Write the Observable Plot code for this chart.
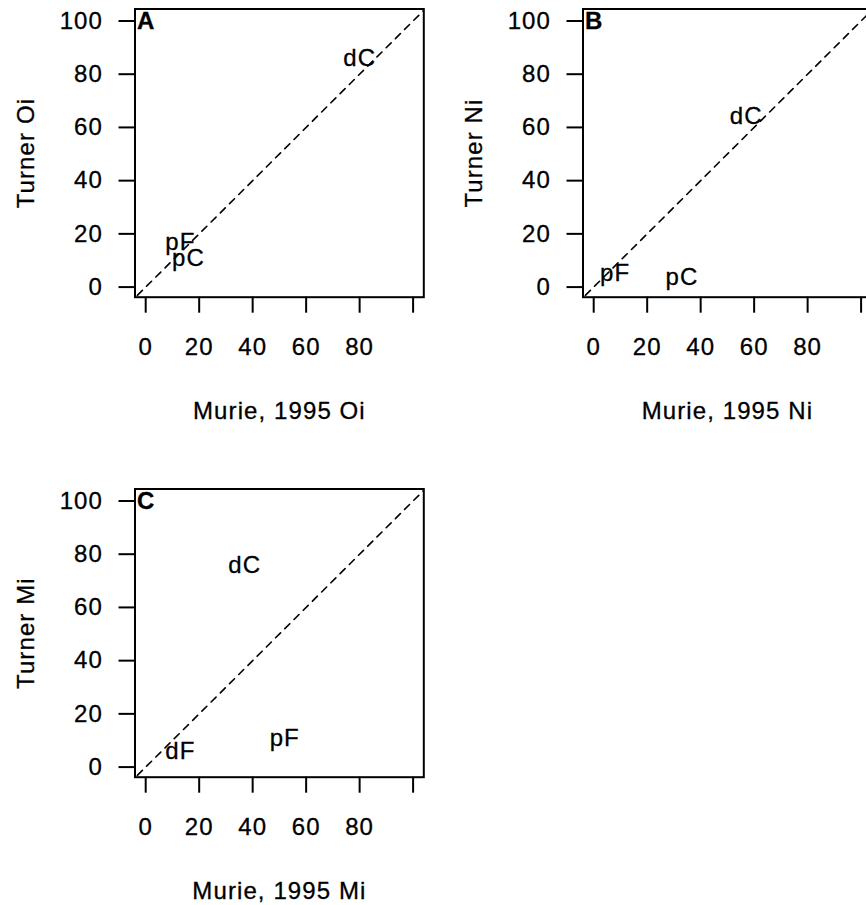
<!DOCTYPE html>
<html><head><meta charset="utf-8">
<script src="https://cdn.jsdelivr.net/npm/d3@7"></script>
<script src="https://cdn.jsdelivr.net/npm/@observablehq/plot@0.6"></script>
<style>
body{margin:0;background:#fff;}
#chart{position:relative;width:866px;height:905px;overflow:hidden;background:#fff;}
#chart svg{position:absolute;}
#chart svg text{stroke:#000;stroke-width:0.3px;}
</style></head><body><div id="chart"></div>
<script>
// Panel titles
const panelLetters = ["A", "B", "C"];
const xTitles = ["Murie, 1995 Oi", "Murie, 1995 Ni", "Murie, 1995 Mi"];
const yTitles = ["Turner Oi", "Turner Ni", "Turner Mi"];

// Panel A (Oi)
const oiSites = ["dC", "pF", "pC"];
const oiMurie = [80, 13, 16];
const oiTurner = [86, 17, 11];

// Panel B (Ni)
const niSites = ["dC", "pF", "pC"];
const niMurie = [57, 8, 33];
const niTurner = [64, 5, 3.5];

// Panel C (Mi)
const miSites = ["dC", "pF", "dF"];
const miMurie = [37, 52, 13];
const miTurner = [76, 11, 6];

// Axis ticks
const axisTicks = [0, 20, 40, 60, 80, 100];
// 1:1 reference line (y = x), clipped to the frame
const identityLine = [-10, 110];

const panelPos = [[0, 0], [448, 0], [0, 480]];

function panel(i, sites, murie, turner) {
  const pts = sites.map((s, j) => ({site: s, murie: murie[j], turner: turner[j]}));
  const svg = Plot.plot({
    width: 448, height: 440,
    marginLeft: 134.5, marginRight: 24.7, marginTop: 8.5, marginBottom: 143.3,
    x: {domain: [-4, 104]},
    y: {domain: [-3.8, 104.5]},
    style: {fontFamily: "'Liberation Sans', Arial, sans-serif", fontSize: "24px", letterSpacing: "1.1px", color: "black", background: "transparent", overflow: "visible"},
    marks: [
      Plot.line(identityLine, {x: d => d, y: d => d, stroke: "black", strokeWidth: 1.6, strokeDasharray: "7,6", clip: true}),
      Plot.frame({stroke: "black", strokeWidth: 2}),
      Plot.axisX(axisTicks, {anchor: "bottom", tickSize: 16, tickPadding: 25, strokeWidth: 2, tickFormat: d => d === 100 ? "" : String(d), label: null}),
      Plot.axisY(axisTicks, {anchor: "left", tickSize: 16, tickPadding: 16, strokeWidth: 2, tickFormat: d => String(d), label: null}),
      Plot.text(pts, {x: "murie", y: "turner", text: "site", fill: "black"}),
      Plot.text([panelLetters[i]], {frameAnchor: "top-left", text: d => d, textAnchor: "start", lineAnchor: "top", dx: 2, dy: 3, fontWeight: "bold", fill: "black"}),
      Plot.text([xTitles[i]], {frameAnchor: "bottom", text: d => d, textAnchor: "middle", lineAnchor: "bottom", dy: 121.6, fill: "black"}),
      Plot.text([yTitles[i]], {frameAnchor: "left", text: d => d, rotate: -90, textAnchor: "middle", lineAnchor: "bottom", dx: -101.2, fill: "black"})
    ]
  });
  svg.style.left = panelPos[i][0] + "px";
  svg.style.top = panelPos[i][1] + "px";
  document.getElementById("chart").appendChild(svg);
}

panel(0, oiSites, oiMurie, oiTurner);
panel(1, niSites, niMurie, niTurner);
panel(2, miSites, miMurie, miTurner);
</script>
</body></html>
